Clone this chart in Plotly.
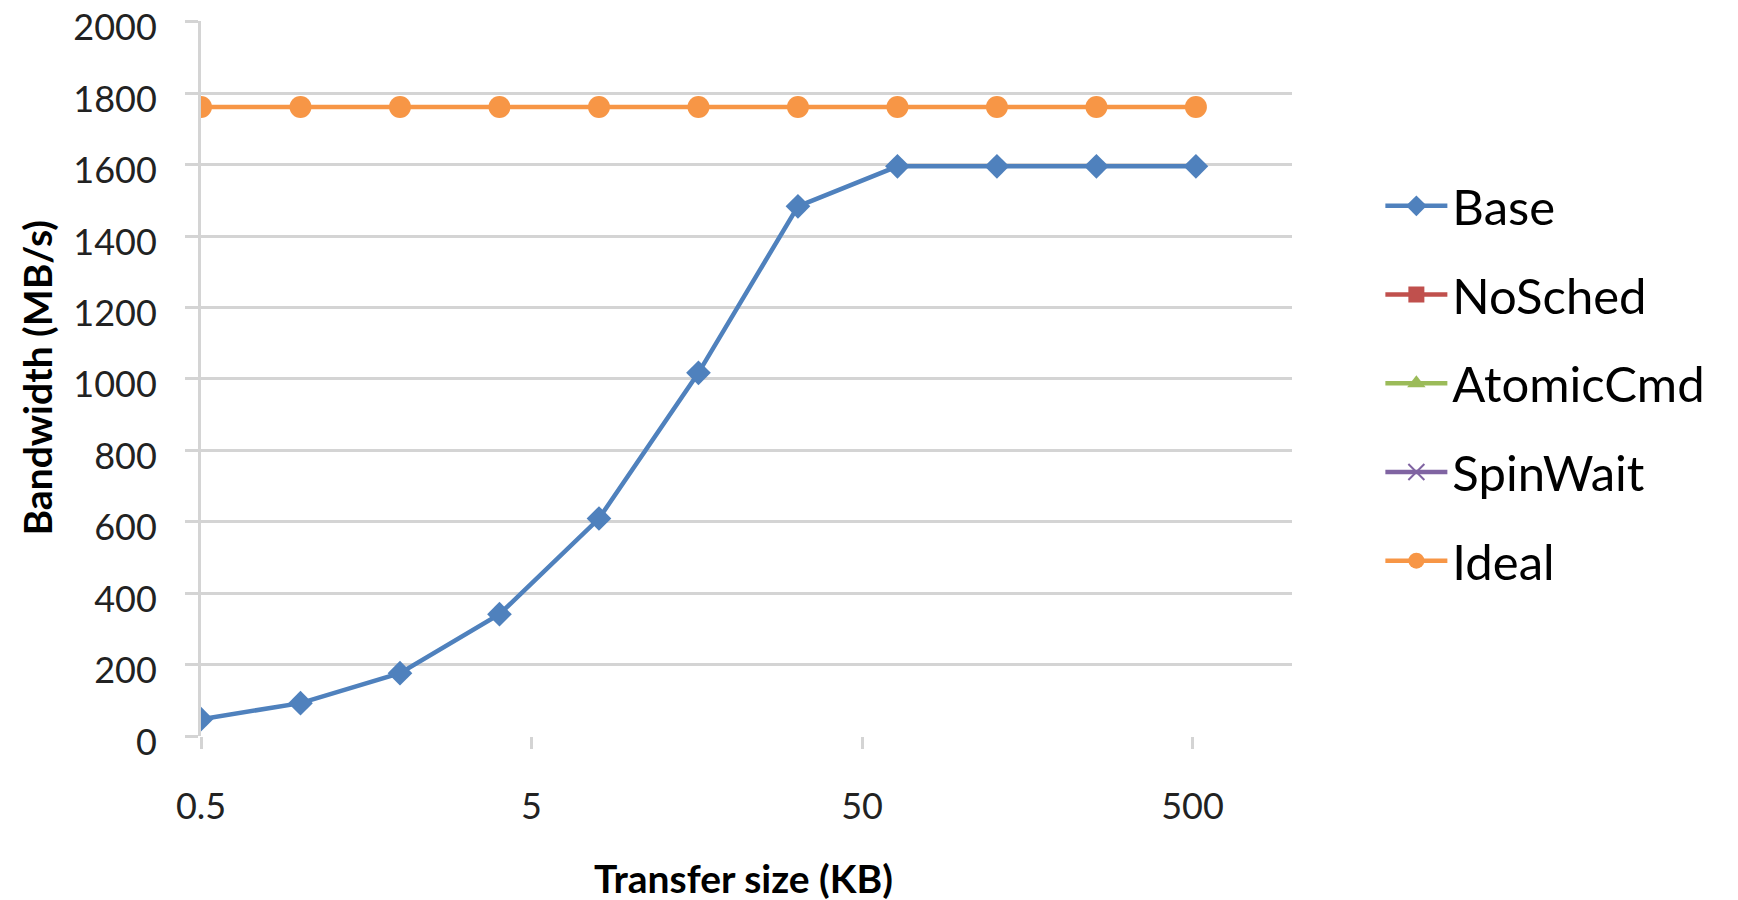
import plotly.graph_objects as go

transfer_kb = [0.5, 1, 2, 4, 8, 16, 32, 64, 128, 256, 512]
base = [47, 92, 176, 341, 609, 1017, 1483, 1595, 1595, 1595, 1595]
ideal = [1761] * 11
nosched = []
atomiccmd = []
spinwait = []

x_ticks = [0.5, 5, 50, 500]
x_tick_labels = ["0.5", "5", "50", "500"]
y_min, y_max, y_step = 0, 2000, 200

FONT = "Lato"
GRID = "#d4d4d4"

fig = go.Figure()
fig.add_trace(go.Scatter(x=transfer_kb, y=base, name="Base", mode="lines+markers", legendgroup="a",
                         line=dict(color="#4f81bd", width=4.5),
                         marker=dict(symbol="diamond", size=19, color="#4f81bd")))
fig.add_trace(go.Scatter(x=nosched or [None], y=nosched or [None], name="NoSched", mode="lines+markers",
                         legendgroup="b",
                         line=dict(color="#c0504d", width=4.5),
                         marker=dict(symbol="square", size=17, color="#c0504d")))
fig.add_trace(go.Scatter(x=atomiccmd or [None], y=atomiccmd or [None], name="AtomicCmd", mode="lines+markers",
                         legendgroup="c",
                         line=dict(color="#9bbb59", width=4.5),
                         marker=dict(symbol="triangle-up", size=17, color="#9bbb59")))
fig.add_trace(go.Scatter(x=spinwait or [None], y=spinwait or [None], name="SpinWait", mode="lines+markers",
                         legendgroup="d",
                         line=dict(color="#8064a2", width=4.5),
                         marker=dict(symbol="x-thin", size=17, color="#8064a2",
                                     line=dict(color="#8064a2", width=2))))
fig.add_trace(go.Scatter(x=transfer_kb, y=ideal, name="Ideal", mode="lines+markers", legendgroup="e",
                         line=dict(color="#f79646", width=4.5),
                         marker=dict(symbol="circle", size=22, color="#f79646")))

fig.update_layout(
    width=1738, height=900,
    margin=dict(l=201, r=446, t=21, b=164, autoexpand=False),
    paper_bgcolor="white", plot_bgcolor="white",
    font=dict(family=FONT, color="#222222"),
    showlegend=True,
    legend=dict(x=1.081, xanchor="left", xref="paper", y=0.493, yanchor="middle",
                font=dict(family=FONT, size=49, color="#000000"),
                itemwidth=62, tracegroupgap=22, bgcolor="rgba(0,0,0,0)",
                traceorder="grouped"),
    xaxis=dict(type="log", range=[-0.30103, 3.0], tickvals=x_ticks, ticktext=x_tick_labels,
               showgrid=False, zeroline=False, showline=False, automargin=False,
               ticks="outside", ticklen=12, tickwidth=3, tickcolor=GRID,
               tickfont=dict(family=FONT, size=36, color="#222222"),
               ticklabelstandoff=27, ticklabeloverflow="allow"),
    yaxis=dict(range=[y_min, y_max + 2], tickmode="linear", tick0=y_min, dtick=y_step,
               showgrid=True, gridcolor=GRID, gridwidth=3, automargin=False,
               zeroline=False, showline=True, linecolor=GRID, linewidth=3,
               ticks="outside", ticklen=13, tickwidth=3, tickcolor=GRID,
               tickfont=dict(family=FONT, size=36, color="#222222"),
               ticklabelstandoff=21, ticklabelshift=6, ticklabeloverflow="allow"),
    annotations=[
        dict(text="<b>Transfer size (KB)</b>", xref="paper", yref="paper", x=0.497, y=0,
             xanchor="center", yanchor="middle", yshift=-142, showarrow=False,
             font=dict(family=FONT, size=39, color="#000000")),
        dict(text="<b>Bandwidth (MB/s)</b>", xref="paper", yref="paper", x=0, y=0.5,
             xanchor="center", yanchor="middle", xshift=-165, showarrow=False, textangle=-90,
             font=dict(family=FONT, size=39, color="#000000")),
    ],
)
fig.write_html("out.html")
